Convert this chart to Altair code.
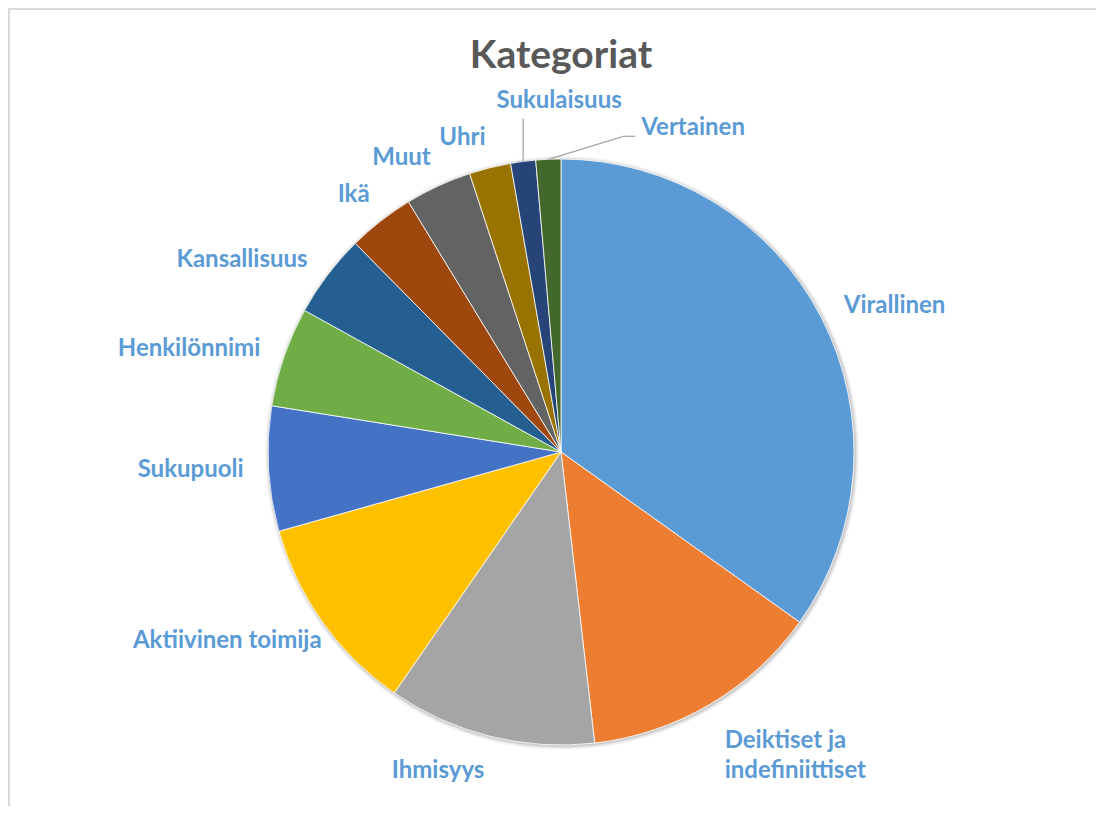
import math
import altair as alt
import pandas as pd

# ---- data ----
categories = ["Virallinen", "Deiktiset ja indefiniittiset", "Ihmisyys", "Aktiivinen toimija",
              "Sukupuoli", "Henkilönnimi", "Kansallisuus", "Ikä", "Muut", "Uhri",
              "Sukulaisuus", "Vertainen"]
counts = [76, 29, 25, 24, 15, 12, 10, 8, 8, 5, 3, 3]
colors = ["#5B9BD5", "#ED7D31", "#A5A5A5", "#FFC000", "#4472C4", "#70AD47",
          "#255E91", "#9E480E", "#636363", "#997300", "#264478", "#43682B"]
title_text = "Kategoriat"

# ---- layout ----
W, H = 1088, 798
CX, CY = 553, 444
R = 293
FONT = "Lato"
LABEL_COLOR = "#5B9BD5"
LABEL_SIZE = 24

df = pd.DataFrame({
    "category": categories,
    "count": counts,
    "order": list(range(len(categories))),
    "label": [c.replace(" ja ", " ja\n") for c in categories],
})

base = (
    alt.Chart(df)
    .transform_window(cum="sum(count)", sort=[alt.SortField("order")], frame=[None, 0])
    .transform_joinaggregate(total="sum(count)")
    .transform_calculate(
        midfrac="(datum.cum - datum.count / 2) / datum.total",
    )
    .transform_calculate(
        ex=f"{CX} + {R} * sin(2 * PI * datum.midfrac)",
        ey=f"{CY} - {R} * cos(2 * PI * datum.midfrac)",
    )
)

one = alt.Chart(pd.DataFrame({"k": [0]}))

# soft shadow rings
shadows = []
for dr, op in [(4, 0.03), (3, 0.04), (2, 0.06), (1, 0.08)]:
    shadows.append(
        one.mark_arc(radius=R + dr, color="#000000", opacity=op).encode(
            theta=alt.value(2 * math.pi), x=alt.value(CX + 1), y=alt.value(CY + 1)
        )
    )

pie = alt.Chart(df).mark_arc(radius=R, stroke="white", strokeWidth=0.8).encode(
    theta=alt.Theta("count:Q", stack=True),
    color=alt.Color("category:N", scale=alt.Scale(domain=categories, range=colors), legend=None),
    order=alt.Order("order:Q"),
    x=alt.value(CX),
    y=alt.value(CY),
)

theta_mid = alt.Theta("midfrac:Q", scale=alt.Scale(domain=[0, 1], range=[0, 2 * math.pi]), stack=False)
txt = dict(font=FONT, fontWeight="bold", fontSize=LABEL_SIZE, color=LABEL_COLOR)


def polar_labels(names, align, baseline, radius, **extra):
    return base.transform_filter(
        alt.FieldOneOfPredicate(field="category", oneOf=names)
    ).mark_text(align=align, baseline=baseline, radius=radius, **txt, **extra).encode(
        theta=theta_mid, text="label:N", x=alt.value(CX), y=alt.value(CY)
    )


left_mid = polar_labels(["Sukupuoli", "Henkilönnimi", "Kansallisuus"], "right", "middle", 318)
left_low = polar_labels(["Aktiivinen toimija"], "right", "top", 294, dy=6)
left_up = polar_labels(["Ikä", "Muut", "Uhri"], "right", "bottom", 311)
right_side = polar_labels(["Virallinen"], "left", "middle", 318)
bottom_right = polar_labels(["Deiktiset ja indefiniittiset"], "left", "top", 322, lineBreak="\n", lineHeight=30)
bottom_left = polar_labels(["Ihmisyys"], "right", "top", 316)

# leader-line labels
suku = base.transform_filter(alt.datum.category == "Sukulaisuus")
suku_line = suku.transform_calculate(ey2="datum.ey - 43").mark_rule(color="#A6A6A6", strokeWidth=1.3).encode(
    x=alt.X("ex:Q", scale=None), y=alt.Y("ey:Q", scale=None), y2="ey2:Q"
)
suku_text = suku.mark_text(align="center", baseline="middle", dx=36, dy=-60, **txt).encode(
    x=alt.X("ex:Q", scale=None), y=alt.Y("ey:Q", scale=None), text="label:N"
)

vert = base.transform_filter(alt.datum.category == "Vertainen").transform_calculate(
    kx="datum.ex + 75", ky="datum.ey - 23", kx2="datum.ex + 87"
)
vert_line1 = vert.mark_rule(color="#A6A6A6", strokeWidth=1.3).encode(
    x=alt.X("ex:Q", scale=None), y=alt.Y("ey:Q", scale=None), x2="kx:Q", y2="ky:Q"
)
vert_line2 = vert.mark_rule(color="#A6A6A6", strokeWidth=1.3).encode(
    x=alt.X("kx:Q", scale=None), y=alt.Y("ky:Q", scale=None), x2="kx2:Q"
)
vert_text = vert.mark_text(align="left", baseline="middle", dx=93, dy=-31, **txt).encode(
    x=alt.X("ex:Q", scale=None), y=alt.Y("ey:Q", scale=None), text="label:N"
)

title = one.mark_text(font=FONT, fontWeight="bold", fontSize=39, color="#595959",
                      align="center", baseline="middle").encode(
    x=alt.value(CX), y=alt.value(48), text=alt.value(title_text)
)

frame_left = one.mark_rule(color="#D9D9D9", strokeWidth=2).encode(
    x=alt.value(1), y=alt.value(0), y2=alt.value(H)
)
frame_top = one.mark_rule(color="#D9D9D9", strokeWidth=2).encode(
    x=alt.value(0), x2=alt.value(W), y=alt.value(1)
)

chart = alt.layer(
    *shadows, pie, left_mid, left_low, left_up, right_side, bottom_right, bottom_left,
    suku_line, suku_text, vert_line1, vert_line2, vert_text, title, frame_left, frame_top
).resolve_scale(theta="independent").properties(
    width=W, height=H, autosize=alt.AutoSizeParams(type="none"), padding=0, background="white"
).configure_view(stroke=None)

chart.save("out.html", embed_options={"renderer": "svg", "actions": False})
